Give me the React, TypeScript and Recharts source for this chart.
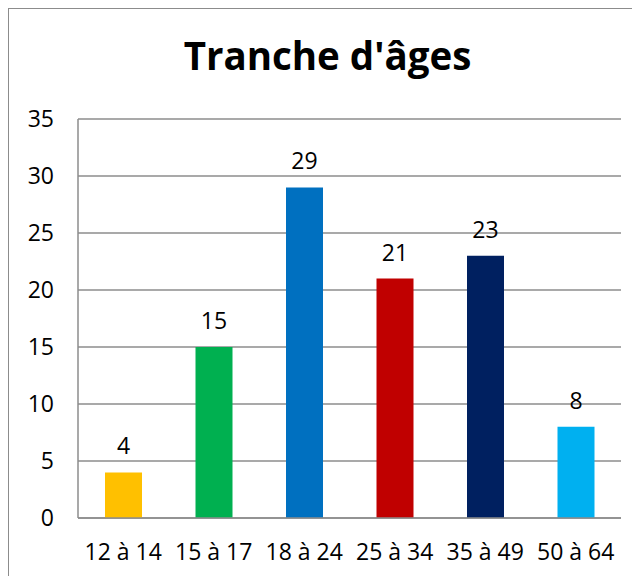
import React from "react";
import { BarChart, Bar, XAxis, YAxis, CartesianGrid, Cell, LabelList } from "recharts";

const categories = ["12 à 14", "15 à 17", "18 à 24", "25 à 34", "35 à 49", "50 à 64"];
const values = [4, 15, 29, 21, 23, 8];
const colors = ["#FFC000", "#00B050", "#0070C0", "#C00000", "#002060", "#00B0F0"];
const yTicks = [0, 5, 10, 15, 20, 25, 30, 35];
const title = "Tranche d'âges";

const data = categories.map((c, i) => ({ name: c, value: values[i] }));

const FONT = "'Open Sans', 'Noto Sans', sans-serif";
const GRID = "#8c8c8c";

export default function App() {
  return (
    <div style={{ position: "relative", width: 632, height: 569, marginTop: -1, borderLeft: `2px solid ${GRID}`, borderTop: `2px solid ${GRID}`, boxSizing: "border-box", marginLeft: -1 }}>
      <svg width={632} height={80} style={{ position: "absolute", left: -1, top: -1 }}>
        <text x={319.5} y={62} textAnchor="middle" fontFamily={FONT} fontWeight={700} fontSize={38.5} fill="#000">
          {title}
        </text>
      </svg>
      <div style={{ position: "absolute", left: -1, top: -1 }}>
        <BarChart width={632} height={569} data={data} margin={{ top: 111, right: 19, left: 0, bottom: 0 }}>
          <CartesianGrid vertical={false} stroke={GRID} strokeWidth={1.5} />
          <XAxis
            dataKey="name"
            height={59}
            tickLine={false}
            tickSize={0}
            tickMargin={26}
            axisLine={{ stroke: GRID, strokeWidth: 1.5 }}
            tick={{ fill: "#000", fontSize: 23, fontFamily: FONT }}
            interval={0}
          />
          <YAxis
            width={70}
            domain={[0, 35]}
            ticks={yTicks}
            tickLine={false}
            tickSize={0}
            tickMargin={24}
            axisLine={{ stroke: GRID, strokeWidth: 1.5 }}
            tick={{ fill: "#000", fontSize: 23, fontFamily: FONT }}
            interval={0}
          />
          <Bar dataKey="value" barSize={37} isAnimationActive={false}>
            {data.map((d, i) => (
              <Cell key={d.name} fill={colors[i]} />
            ))}
            <LabelList dataKey="value" position="top" offset={18} fill="#000" fontSize={23} fontFamily={FONT} />
          </Bar>
        </BarChart>
      </div>
    </div>
  );
}
